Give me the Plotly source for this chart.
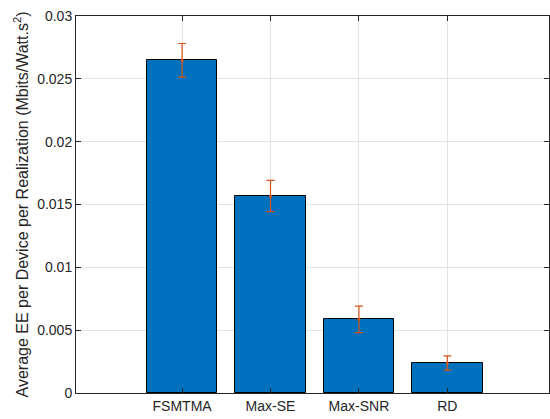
import plotly.graph_objects as go

# Schemes compared and their mean energy efficiency with spread
schemes = ["FSMTMA", "Max-SE", "Max-SNR", "RD"]
mean_ee = [0.02647, 0.01568, 0.00586, 0.00239]
ee_spread = [0.00134, 0.00124, 0.00106, 0.00057]

y_ticks = [0, 0.005, 0.01, 0.015, 0.02, 0.025, 0.03]
y_tick_text = ["0", "0.005", "0.01", "0.015", "0.02", "0.025", "0.03"]

positions = list(range(1, len(schemes) + 1))

fig = go.Figure()
fig.add_trace(go.Bar(
    x=positions, y=mean_ee, width=0.8,
    marker=dict(color="#0072BD", line=dict(color="#000000", width=1)),
    showlegend=False, hoverinfo="skip",
))
fig.add_trace(go.Scatter(
    x=positions, y=mean_ee, mode="markers",
    marker=dict(color="#D95319", size=3),
    error_y=dict(type="data", array=ee_spread, color="#D95319",
                 thickness=1.2, width=4),
    showlegend=False,
))

axis_font = dict(family="Liberation Sans, Arial, sans-serif", size=14, color="#262626")

fig.update_layout(
    width=550, height=419,
    margin=dict(l=76, r=1, t=16, b=26),
    paper_bgcolor="white", plot_bgcolor="white",
    font=axis_font,
    bargap=0,
)
fig.update_xaxes(
    range=[-0.2, 5.15],
    tickvals=positions, ticktext=schemes,
    showgrid=True, gridcolor="#e3e3e3", gridwidth=1,
    showline=True, linecolor="#262626", linewidth=1, mirror="ticks",
    ticks="inside", ticklen=5, tickcolor="#262626",
    zeroline=False, tickfont=axis_font,
)
fig.update_yaxes(
    range=[0, 0.03],
    tickvals=y_ticks, ticktext=y_tick_text,
    showgrid=True, gridcolor="#e3e3e3", gridwidth=1,
    showline=True, linecolor="#262626", linewidth=1, mirror="ticks",
    ticks="inside", ticklen=5, tickcolor="#262626",
    zeroline=False, tickfont=axis_font,
    title=dict(text="Average EE per Device per Realization (Mbits/Watt.s<sup>2</sup>)",
               font=dict(family="Liberation Sans, Arial, sans-serif", size=16, color="#262626"),
               standoff=4),
)

fig.write_html("out.html")
